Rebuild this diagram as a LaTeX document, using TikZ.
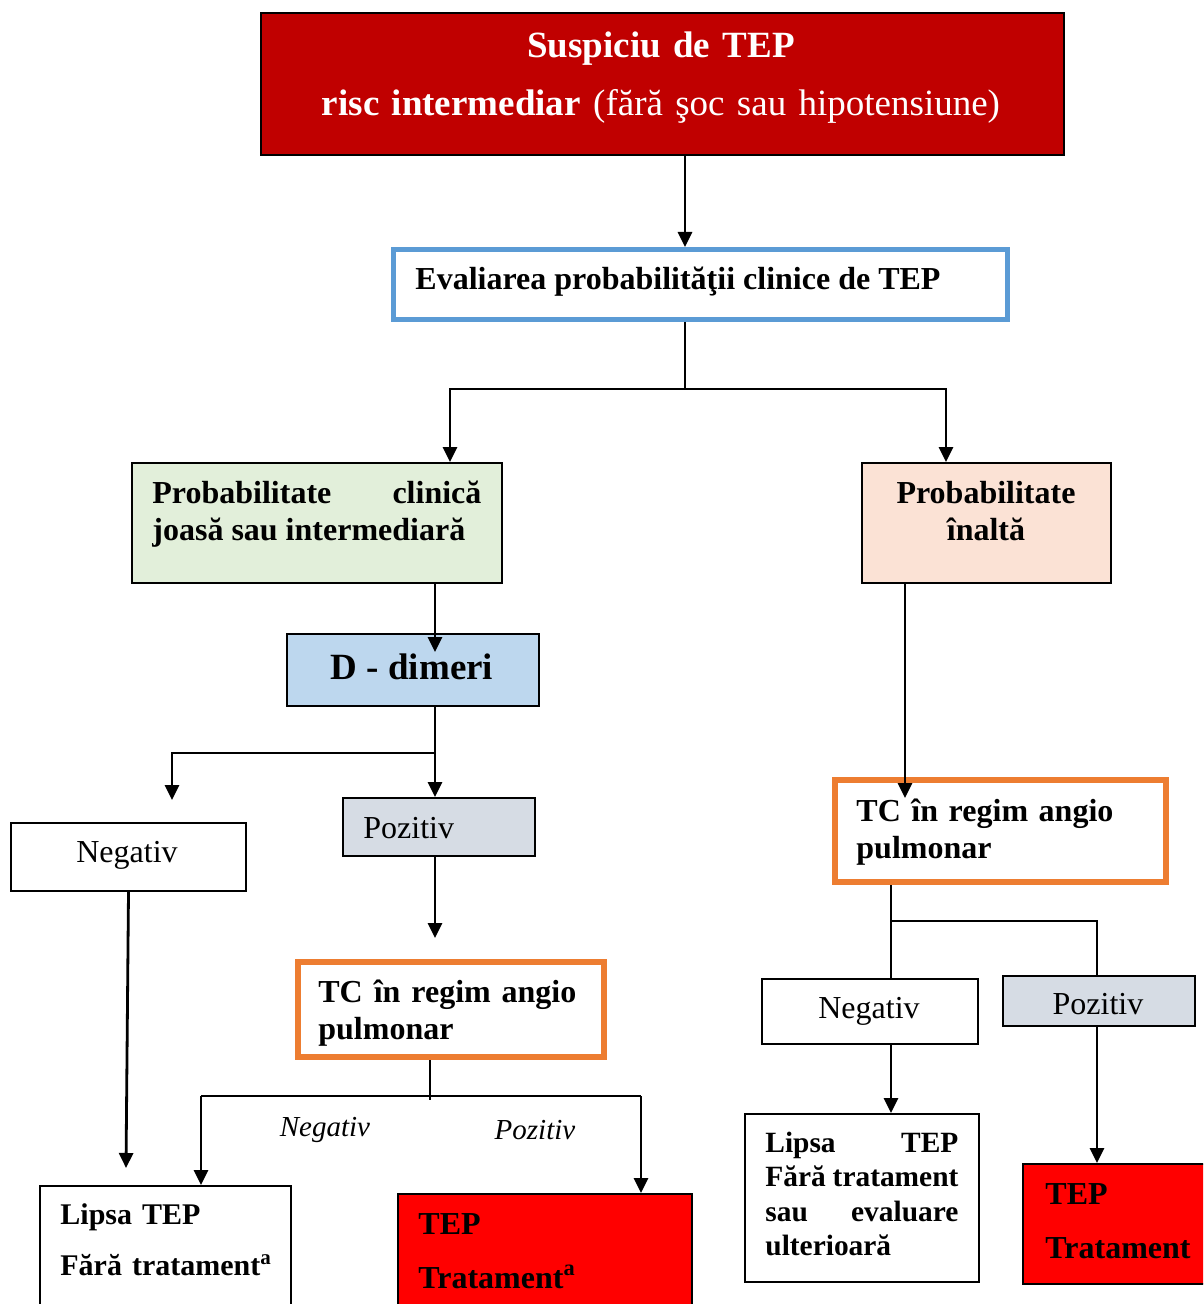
\documentclass[tikz,border=0pt]{standalone}
\usepackage{fontspec}
\setmainfont{Liberation Serif}
\usetikzlibrary{arrows.meta,calc,positioning}
\definecolor{topred}{HTML}{C00000}
\definecolor{evalblue}{HTML}{5B9BD5}
\definecolor{lowgreen}{HTML}{E2EFDA}
\definecolor{highpeach}{HTML}{FBE2D5}
\definecolor{dimblue}{HTML}{BDD7EE}
\definecolor{pozgray}{HTML}{D6DCE4}
\definecolor{tcorange}{HTML}{ED7D31}
\definecolor{tepred}{HTML}{FF0000}
\tikzstyle{box}=[
  draw=black,
  line width=1pt,
  anchor=north west,
  inner sep=0pt,
]
\tikzstyle{tcbox}=[
  box,
  draw=tcorange,
  line width=3pt,
]
\tikzstyle{txt}=[
  anchor=base west,
  inner sep=0pt,
  font={\fontsize{16}{18.5}\selectfont},
]
\tikzstyle{btxt}=[
  txt,
  font={\fontsize{16}{18.5}\selectfont\bfseries},
]
\tikzstyle{link}=[
  draw=black,
  line width=1.4pt,
]
\tikzstyle{arrow}=[
  link,
  -{Triangle[length=7.5pt,width=7pt]},
]

\begin{document}
\begin{tikzpicture}[x=0.5pt, y=-0.5pt]
  \useasboundingbox (0,0) rectangle (1203,1304);
  \clip (0,0) rectangle (1203,1304);
  % boxes
  \node [box, fill=topred, minimum width=401.5pt, minimum height=71pt] (top) at (260,12) {};
  \node [box, draw=evalblue, line width=2.5pt, minimum width=307pt, minimum height=35pt] (evl) at (391,247) {};
  \node [box, fill=lowgreen, minimum width=185pt, minimum height=60pt] (low) at (131,462) {};
  \node [box, fill=highpeach, minimum width=124.5pt, minimum height=60pt] (high) at (861,462) {};
  \node [box, fill=dimblue, minimum width=126pt, minimum height=36pt] (ddim) at (286,633) {};
  \node [box, minimum width=117.5pt, minimum height=34pt] (neg1) at (10,822) {};
  \node [box, fill=pozgray, minimum width=96pt, minimum height=29pt] (poz1) at (342,797) {};
  \node [tcbox, minimum width=153pt, minimum height=47.5pt] (tc1) at (295,959) {};
  \node [box, minimum width=125.5pt, minimum height=70pt] (lipsa1) at (39,1185) {};
  \node [box, fill=tepred, minimum width=147pt, minimum height=65pt] (tep1) at (397,1193) {};
  \node [tcbox, minimum width=165.5pt, minimum height=51pt] (tc2) at (832,777) {};
  \node [box, minimum width=108pt, minimum height=32.5pt] (neg2) at (761,978) {};
  \node [box, fill=pozgray, minimum width=96pt, minimum height=25pt] (poz2) at (1002,975) {};
  \node [box, minimum width=117pt, minimum height=84pt] (lipsa2) at (744,1113) {};
  \node [box, fill=tepred, minimum width=95pt, minimum height=60pt] (tep2) at (1022,1163) {};

  % texts
  \node [txt, anchor=base, text width=401.5pt, align=center, text=white, font={\fontsize{18.5}{29}\selectfont}] (top-t) at (661,58)
    {\textbf{Suspiciu de TEP}\\\textbf{risc intermediar} (fără şoc sau hipotensiune)};
  \node [btxt] (evl-t) at (415,290) {Evaliarea probabilităţii clinice de TEP};
  \node [btxt, text width=164.5pt, align=justify] (low-t) at (152,503)
    {Probabilitate clinică\linebreak joasă sau intermediară};
  \node [btxt, anchor=base, text width=120pt, align=center] (high-t) at (986,503) {Probabilitate\\înaltă};
  \node [btxt, anchor=base, font={\fontsize{18.5}{22}\selectfont\bfseries}] (ddim-t) at (412,679) {D - dimeri};
  \node [txt, anchor=base] (neg1-t) at (127,862) {Negativ};
  \node [txt] (poz1-t) at (363,838) {Pozitiv};
  \node [btxt, text width=129pt, align=justify] (tc1-t) at (318,1002)
    {TC în regim angio\linebreak pulmonar};
  \node [txt, anchor=base, font={\fontsize{14.5}{17}\selectfont\itshape}] (neg-i) at (325,1136) {Negativ};
  \node [txt, anchor=base, font={\fontsize{14.5}{17}\selectfont\itshape}] (poz-i) at (535,1139) {Pozitiv};
  \node [btxt, text width=110pt, align=left, font={\fontsize{15}{25.5}\selectfont\bfseries}] (lipsa1-t) at (60,1224)
    {Lipsa TEP\\Fără tratament\textsuperscript{a}};
  \node [btxt, text width=130pt, align=left, font={\fontsize{16}{27}\selectfont\bfseries}] (tep1-t) at (418,1234)
    {TEP\\Tratament\textsuperscript{a}};
  \node [btxt, text width=128.5pt, align=justify] (tc2-t) at (856,821)
    {TC în regim angio\linebreak pulmonar};
  \node [txt, anchor=base] (neg2-t) at (869,1018) {Negativ};
  \node [txt, anchor=base] (poz2-t) at (1098,1014) {Pozitiv};
  \node [btxt, text width=96.5pt, align=justify, font={\fontsize{14.7}{17.3}\selectfont\bfseries}] (lipsa2-t) at (765,1152)
    {Lipsa TEP\linebreak Fără tratament\linebreak sau evaluare\linebreak ulterioară};
  \node [btxt, text width=80pt, align=left, font={\fontsize{16}{27}\selectfont\bfseries}] (tep2-t) at (1045,1204)
    {TEP\\Tratament};

  % lanes and forks
  \coordinate (a1) at (685,0);
  \coordinate (f1) at (685,389);
  \coordinate (f1l) at (450,389);
  \coordinate (f1r) at (946,389);
  \coordinate (a2) at (435,0);
  \coordinate (f2) at (435,753);
  \coordinate (n1) at (172,800);
  \coordinate (p1) at (435,938);
  \coordinate (n1d) at (126,1168);
  \coordinate (f3) at (430,1100);
  \coordinate (f3l) at (201,1096);
  \coordinate (f3r) at (641,1096);
  \coordinate (a4) at (905,0);
  \coordinate (f4) at (891,921);
  \coordinate (f4r) at (1097,921);

  % connectors
  \draw [arrow] (top.south -| a1) -- (evl.north -| a1);
  \draw [link] (evl.south -| a1) -- (f1);
  \draw [arrow] (f1) -| (low.north -| f1l);
  \draw [arrow] (f1) -| (high.north -| f1r);
  \draw [arrow] (low.south -| a2) -- ($(ddim.north -| a2)+(0,19)$);
  \draw [link] (ddim.south -| a2) -- (f2);
  \draw [arrow] (f2) -| (n1);
  \draw [arrow] (f2) -- (poz1.north -| a2);
  \draw [arrow] (poz1.south -| a2) -- (p1);
  \draw [arrow] (neg1.south) -- (n1d);
  \draw [link] (tc1.south -| f3) -- (f3);
  \draw [link] (f3l) -- (f3r);
  \draw [arrow] (f3l) -- (lipsa1.north -| f3l);
  \draw [arrow] (f3r) -- (tep1.north -| f3r);
  \draw [arrow] (high.south -| a4) -- ($(tc2.north -| a4)+(0,21)$);
  \draw [link] (tc2.south -| f4) -- (neg2.north -| f4);
  \draw [link] (f4) -- (f4r) -- (poz2.north -| f4r);
  \draw [arrow] (neg2.south -| f4) -- (lipsa2.north -| f4);
  \draw [arrow] (poz2.south -| f4r) -- (tep2.north -| f4r);
\end{tikzpicture}
\end{document}
